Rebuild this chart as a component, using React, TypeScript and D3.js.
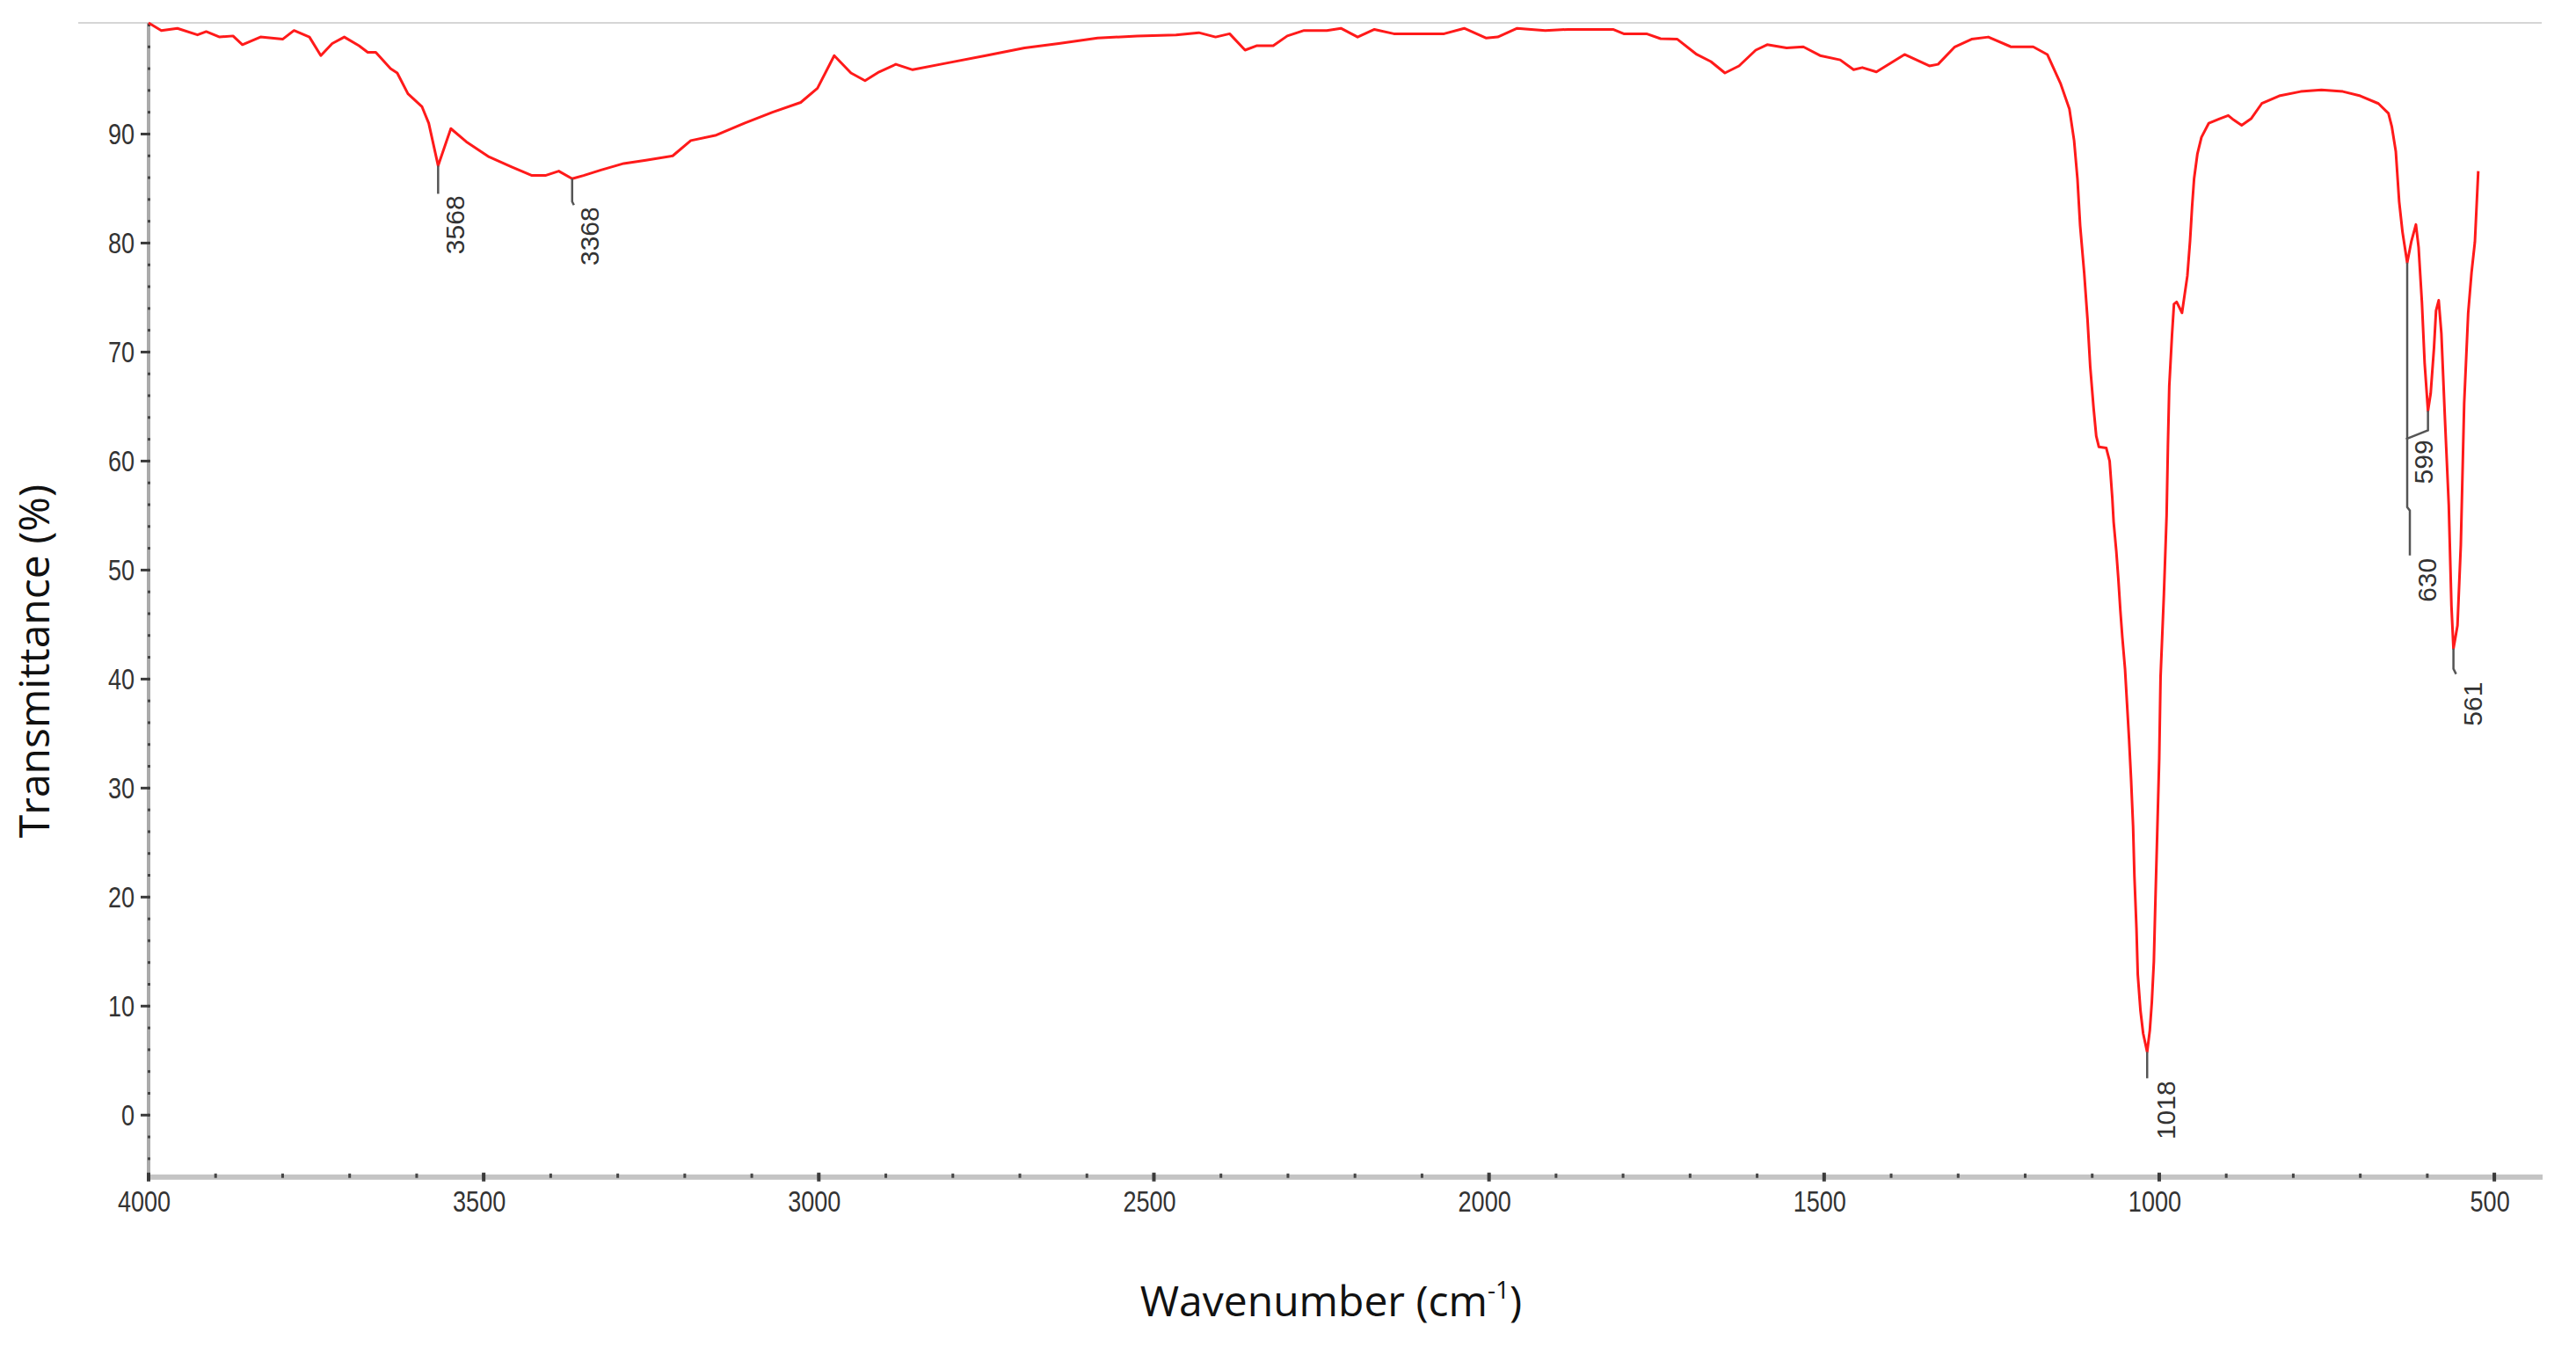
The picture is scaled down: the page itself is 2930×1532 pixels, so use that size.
import React from "react";
import * as d3 from "d3";

const W = 2930;
const H = 1532;

// Spectrum (wavenumber cm-1, transmittance %)
const wavenumbers = [
  4000, 3981, 3957, 3927, 3914, 3894, 3874, 3860, 3833, 3800, 3783, 3760, 3743, 3726, 3708, 3686, 3673, 3661,
  3639, 3629, 3613, 3592, 3582, 3568, 3549, 3526, 3492, 3459, 3428, 3408, 3388, 3368, 3351, 3325, 3291, 3258,
  3218, 3191, 3153, 3111, 3069, 3027, 3002, 2977, 2952, 2931, 2910, 2885, 2860, 2810, 2751, 2693, 2642, 2584,
  2525, 2467, 2433, 2408, 2387, 2364, 2347, 2322, 2301, 2276, 2242, 2221, 2196, 2171, 2142, 2067, 2037, 2004,
  1987, 1958, 1916, 1882, 1849, 1815, 1799, 1765, 1744, 1719, 1690, 1669, 1648, 1627, 1602, 1585, 1556, 1531,
  1506, 1476, 1456, 1443, 1422, 1380, 1343, 1330, 1305, 1280, 1255, 1221, 1188, 1167, 1147, 1134, 1127, 1122,
  1118, 1112, 1107, 1103, 1098, 1094, 1090, 1079, 1074, 1070, 1068, 1064, 1061, 1058, 1055, 1051, 1048, 1045,
  1042, 1039, 1037, 1034, 1032, 1028, 1024, 1018, 1014, 1011, 1008, 1006, 1003, 1000, 998, 993, 989, 987, 985,
  981, 978, 974, 966, 958, 954, 951, 948, 943, 937, 926, 910, 897, 889, 877, 863, 847, 821, 789, 758, 726, 700,
  673, 658, 653, 647, 642, 637, 630, 624, 617, 613, 608, 604, 599, 595, 590, 587, 583, 579, 574, 568, 564, 561,
  555, 550, 545, 539, 534, 529, 524,
];
const transmittance = [
  100.2, 99.5, 99.7, 99.1, 99.4, 98.9, 99.0, 98.2, 98.9, 98.7, 99.5, 98.9, 97.2, 98.3, 98.9, 98.1, 97.5, 97.5,
  96.0, 95.6, 93.7, 92.5, 91.0, 87.1, 90.5, 89.3, 87.9, 87.0, 86.2, 86.2, 86.6, 85.9, 86.2, 86.7, 87.3, 87.6,
  88.0, 89.4, 89.9, 91.0, 92.0, 92.9, 94.2, 97.2, 95.6, 94.9, 95.7, 96.4, 95.9, 96.5, 97.2, 97.9, 98.3, 98.8,
  99.0, 99.1, 99.3, 98.9, 99.2, 97.7, 98.1, 98.1, 99.0, 99.5, 99.5, 99.7, 98.9, 99.6, 99.2, 99.2, 99.7, 98.8,
  98.9, 99.7, 99.5, 99.6, 99.6, 99.6, 99.2, 99.2, 98.75, 98.7, 97.3, 96.65, 95.6, 96.25, 97.7, 98.2, 97.9, 98.0,
  97.2, 96.8, 95.9, 96.1, 95.7, 97.3, 96.25, 96.4, 98.0, 98.7, 98.9, 98.0, 98.0, 97.3, 94.6, 92.3, 89.4, 85.9,
  81.6, 77.3, 73.0, 68.7, 64.9, 62.3, 61.3, 61.2, 60.0, 56.6, 54.4, 51.7, 49.2, 46.3, 43.8, 40.9, 37.7, 34.5,
  30.8, 26.5, 21.9, 17.2, 12.9, 9.6, 7.5, 5.8, 7.8, 10.4, 14.1, 19.0, 25.8, 32.7, 40.2, 47.8, 55.0, 61.5, 66.9,
  71.5, 74.4, 74.6, 73.6, 77.0, 80.2, 83.3, 85.9, 88.2, 89.7, 91.0, 91.4, 91.7, 91.3, 90.8, 91.4, 92.8, 93.5, 93.9, 94.05, 93.9, 93.5,
  92.8, 91.9, 90.7, 88.4, 83.8, 81.0, 78.2, 80.1, 81.7, 79.6, 74.5, 69.0, 64.6, 66.2, 70.4, 73.8, 74.75, 71.7, 64.3, 56.0, 46.7, 42.8,
  44.9, 52.3, 65.3, 73.6, 77.3, 80.1, 86.6,
];

const xTickValues = [4000, 3500, 3000, 2500, 2000, 1500, 1000, 500];
const yTickValues = [0, 10, 20, 30, 40, 50, 60, 70, 80, 90];

const peakWavenumbers = [3568, 3368, 1018, 630, 599, 561];
const peakLabels = ["3568", "3368", "1018", "630", "599", "561"];

// leader-line geometry (pixel offsets from the peak point) and label offsets
const leaderPaths: number[][][] = [
  [[0, 0], [0, 32]],
  [[0, 0], [0, 26], [2, 30]],
  [[0, 0], [0, 30]],
  [[0, 0], [0, 278], [3, 282], [3, 333]],
  [[0, 0], [0, 22], [-25, 32]],
  [[0, 0], [0, 23], [3, 29]],
];
const labelOffsets: number[][] = [
  [19, 34],
  [20, 32],
  [21, 33],
  [22, 336],
  [-5, 33],
  [22, 38],
];

export default function App() {
  const x = d3.scaleLinear().domain([4000, 428]).range([169, 2892]);
  const y = d3.scaleLinear().domain([-5.6, 100.2]).range([1337.7, 26]);

  const pts = wavenumbers.map((w, i) => [w, transmittance[i]] as [number, number]);
  const line = d3
    .line<[number, number]>()
    .x((d) => x(d[0]))
    .y((d) => y(d[1]));

  const xMinor = d3.range(500, 4001, 100);
  const yMinor = d3.range(-4, 101, 2);

  const axisY = y(-5.6);
  const axisX = x(4000);

  return (
    <svg
      width={W}
      height={H}
      viewBox={`0 0 ${W} ${H}`}
      style={{ position: "absolute", left: 0, top: 0, background: "#fff" }}
    >
      <rect x={0} y={0} width={W} height={H} fill="#fff" />
      {/* top frame line */}
      <line x1={89} x2={2891} y1={26} y2={26} stroke="#d6d6d6" strokeWidth={2} />

      {/* x axis band */}
      <line x1={axisX} x2={x(428)} y1={axisY + 1} y2={axisY + 1} stroke="#c4c4c4" strokeWidth={6} />
      {/* y axis band */}
      <line x1={axisX} x2={axisX} y1={26} y2={axisY} stroke="#aaaaaa" strokeWidth={4} />

      {/* x minor ticks */}
      {xMinor.map((v) => (
        <rect key={"xm" + v} x={x(v) - 1.5} y={axisY - 3} width={3} height={5} fill="#444" />
      ))}
      {/* x major ticks */}
      {xTickValues.map((v) => (
        <rect key={"xM" + v} x={x(v) - 2} y={axisY - 4} width={4} height={10} fill="#3a3a3a" />
      ))}
      {/* y minor ticks */}
      {yMinor.map((v) => (
        <rect key={"ym" + v} x={axisX - 1} y={y(v) - 1.5} width={3} height={3} fill="#444" />
      ))}
      {/* y major ticks */}
      {yTickValues.map((v) => (
        <rect key={"yM" + v} x={axisX - 9} y={y(v) - 1.5} width={10} height={3} fill="#3a3a3a" />
      ))}

      {/* x tick labels */}
      {xTickValues.map((v) => (
        <text
          key={"xl" + v}
          transform={`translate(${x(v) - 5},${1378}) scale(0.82,1)`}
          textAnchor="middle"
          fontFamily="'Liberation Sans', Arial, sans-serif"
          fontSize={33}
          fill="#333"
        >
          {v}
        </text>
      ))}
      {/* y tick labels */}
      {yTickValues.map((v) => (
        <text
          key={"yl" + v}
          transform={`translate(${153},${y(v) + 12}) scale(0.82,1)`}
          textAnchor="end"
          fontFamily="'Liberation Sans', Arial, sans-serif"
          fontSize={33}
          fill="#333"
        >
          {v}
        </text>
      ))}

      {/* spectrum */}
      <path d={line(pts) || ""} fill="none" stroke="#ff1a1a" strokeWidth={3} strokeLinejoin="round" />

      {/* peak annotations */}
      {peakWavenumbers.map((w, i) => {
        const idx = wavenumbers.indexOf(w);
        const px = x(w);
        const py = y(transmittance[idx]);
        const path = leaderPaths[i].map((p) => [px + p[0], py + p[1]] as [number, number]);
        const lx = px + labelOffsets[i][0];
        const ly = py + labelOffsets[i][1];
        return (
          <g key={"pk" + w}>
            <path
              d={d3.line()(path) || ""}
              fill="none"
              stroke="#555"
              strokeWidth={2.5}
            />
            <text
              transform={`translate(${lx},${ly}) rotate(-90)`}
              textAnchor="end"
              dominantBaseline="central"
              fontFamily="'Liberation Sans', Arial, sans-serif"
              fontSize={30}
              fill="#333"
            >
              {peakLabels[i]}
            </text>
          </g>
        );
      })}

      {/* axis titles */}
      <text
        transform={`translate(56,752) rotate(-90)`}
        textAnchor="middle"
        fontFamily="'Open Sans', 'Noto Sans', sans-serif"
        fontSize={48}
        fill="#111"
      >
        Transmittance (%)
      </text>
      <text
        x={1514}
        y={1497}
        textAnchor="middle"
        fontFamily="'Open Sans', 'Noto Sans', sans-serif"
        fontSize={48}
        fill="#111"
      >
        Wavenumber (cm
        <tspan fontSize={28} dy={-20}>
          -1
        </tspan>
        <tspan dy={20}>)</tspan>
      </text>
    </svg>
  );
}
